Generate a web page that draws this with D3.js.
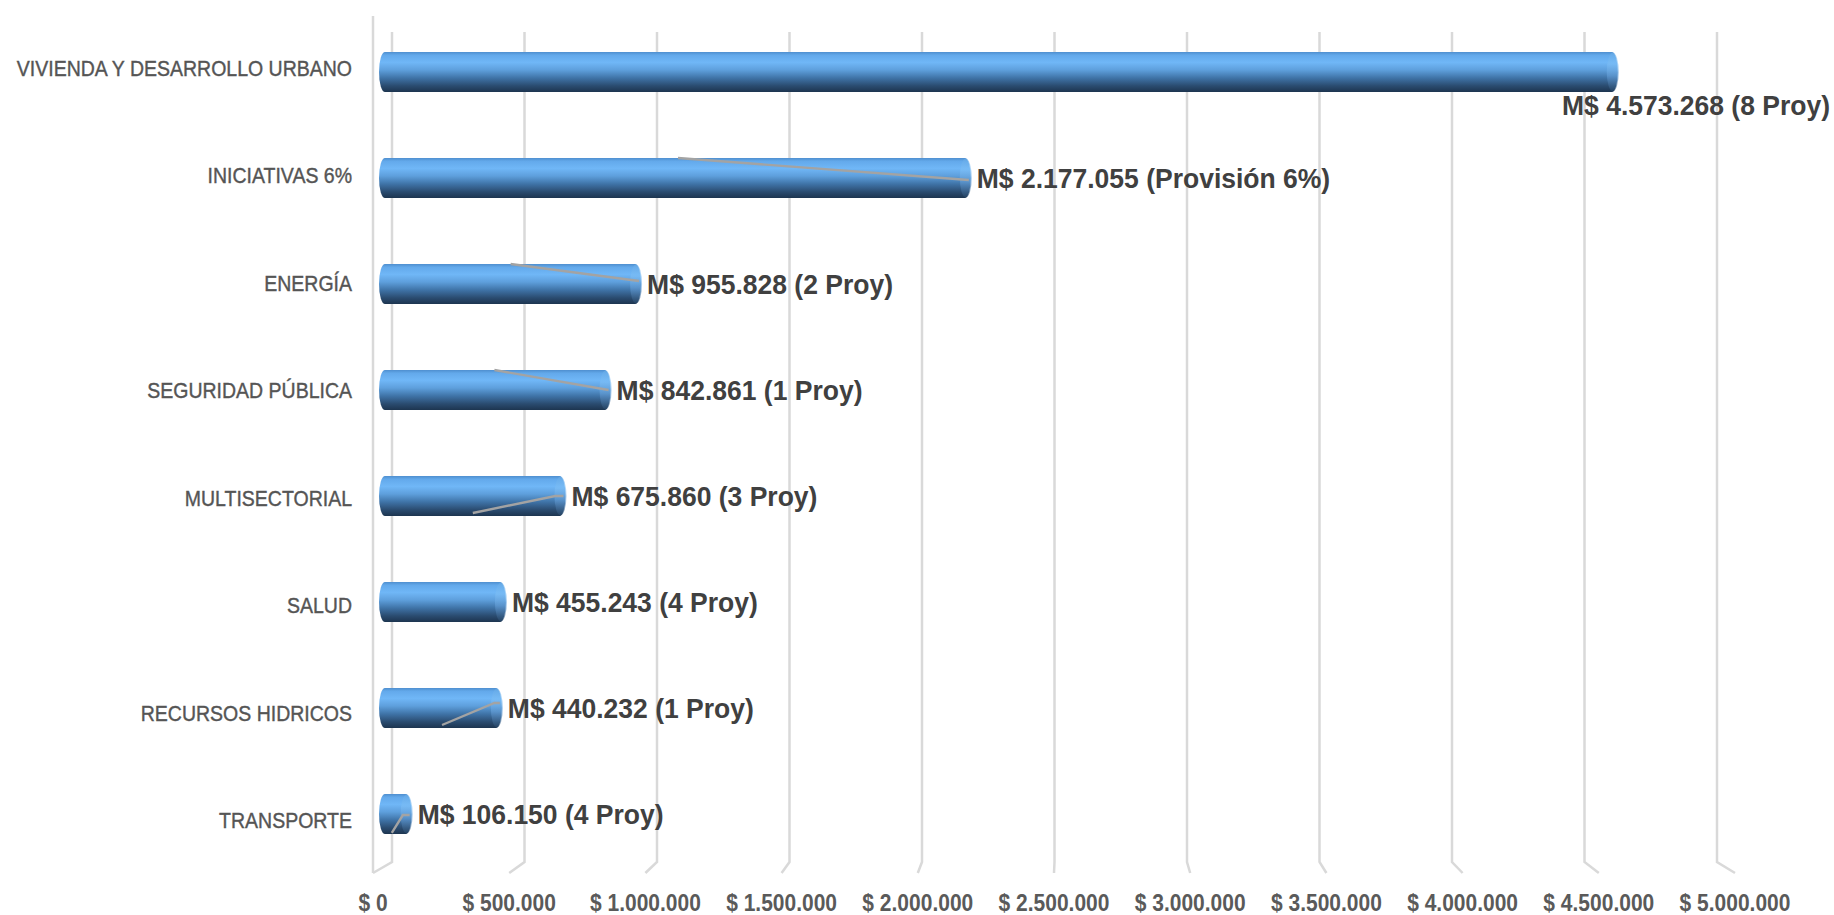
<!DOCTYPE html>
<html>
<head>
<meta charset="utf-8">
<script src="https://cdn.jsdelivr.net/npm/d3@7"></script>
<style>
  html, body { margin: 0; padding: 0; background: #ffffff; }
  svg { display: block; }
  text { font-family: "Liberation Sans", Arial, sans-serif; }
</style>
</head>
<body>
<script>
// ---------- DATA ----------
const categories = [
  "VIVIENDA Y DESARROLLO URBANO",
  "INICIATIVAS 6%",
  "ENERGÍA",
  "SEGURIDAD PÚBLICA",
  "MULTISECTORIAL",
  "SALUD",
  "RECURSOS HIDRICOS",
  "TRANSPORTE"
];
const values = [4573268, 2177055, 955828, 842861, 675860, 455243, 440232, 106150];
const projectNotes = ["8 Proy", "Provisión 6%", "2 Proy", "1 Proy", "3 Proy", "4 Proy", "1 Proy", "4 Proy"];
const tickValues = [0, 500000, 1000000, 1500000, 2000000, 2500000, 3000000, 3500000, 4000000, 4500000, 5000000];
const tickLabels = ["$ 0", "$ 500.000", "$ 1.000.000", "$ 1.500.000", "$ 2.000.000", "$ 2.500.000",
                    "$ 3.000.000", "$ 3.500.000", "$ 4.000.000", "$ 4.500.000", "$ 5.000.000"];
// label leader lines (value, position across the bar from -1 top to +1 bottom)
const leaderCategories = ["INICIATIVAS 6%", "ENERGÍA", "SEGURIDAD PÚBLICA", "MULTISECTORIAL", "RECURSOS HIDRICOS", "TRANSPORTE"];
const leaderPoints = [
  [[1100000, -1], [2177055, 0.1]],
  [[480000, -1], [955828, -0.15]],
  [[420000, -1], [842861, 0]],
  [[340000, 0.85], [645000, 0], [675860, 0]],
  [[226000, 0.85], [420000, -0.25], [440232, -0.25]],
  [[40000, 0.95], [81000, 0.05], [106150, 0.05]]
];

// ---------- LAYOUT ----------
const W = 1834, H = 915;
const svg = d3.select("body").append("svg").attr("width", W).attr("height", H);

const maxV = 5000000;
const xBack  = d3.scaleLinear().domain([0, maxV]).range([392, 1717]);   // back wall
const xFront = d3.scaleLinear().domain([0, maxV]).range([373, 1735]);   // front floor edge
const xBar   = d3.scaleLinear().domain([0, maxV]).range([381, 1731]);   // bar plane

const yBar   = d3.scaleBand().domain(categories).range([19, 867]);
const yLabel = d3.scaleBand().domain(categories).range([14, 874]);
const barH = yBar.step() * 0.377;

const wallTop = 32, wallBottom = 862, frontTop = 16, frontBottom = 873;

// ---------- DEFS ----------
const defs = svg.append("defs");
const grad = defs.append("linearGradient").attr("id", "cyl").attr("x1", 0).attr("y1", 0).attr("x2", 0).attr("y2", 1);
[[0, "#4f8fcf"], [0.08, "#63a9eb"], [0.26, "#70b7f7"], [0.45, "#5e9fdc"], [0.65, "#3f73a7"], [0.85, "#2a4b6f"], [1, "#1d3550"]]
  .forEach(([o, c]) => grad.append("stop").attr("offset", o).attr("stop-color", c));
const gradCap = defs.append("linearGradient").attr("id", "cap").attr("x1", 0).attr("y1", 0).attr("x2", 0).attr("y2", 1);
[[0, "#68ace7"], [0.3, "#7dbef5"], [0.6, "#659fd8"], [1, "#2a4a6c"]]
  .forEach(([o, c]) => gradCap.append("stop").attr("offset", o).attr("stop-color", c));

// ---------- GRID (back wall + floor) ----------
const grid = svg.append("g").attr("fill", "none").attr("stroke", "#d9d9d9").attr("stroke-width", 2.5);
grid.selectAll("path.g").data(tickValues).join("path")
  .attr("class", "g")
  .attr("d", v => `M${xBack(v)},${wallTop}L${xBack(v)},${wallBottom}L${xFront(v)},${frontBottom}`);
// left side wall front edge
grid.append("line")
  .attr("x1", xFront(0)).attr("x2", xFront(0))
  .attr("y1", frontTop).attr("y2", frontBottom);

// ---------- BARS ----------
const bars = svg.append("g");
const rows = categories.map((c, i) => ({ c, v: values[i], note: projectNotes[i] }));
const cy = d => yBar(d.c) + yBar.bandwidth() / 2;
const capRx = 6;

bars.selectAll("rect").data(rows).join("rect")
  .attr("x", xBar(0) - 2)
  .attr("y", d => cy(d) - barH / 2)
  .attr("width", d => Math.max(xBar(d.v) - xBar(0) + 4, capRx * 2))
  .attr("height", barH)
  .attr("rx", capRx).attr("ry", barH / 2)
  .attr("fill", "url(#cyl)");

bars.selectAll("ellipse").data(rows).join("ellipse")
  .attr("cx", d => xBar(d.v) - capRx + 3)
  .attr("cy", d => cy(d))
  .attr("rx", capRx).attr("ry", barH / 2 - 0.5)
  .attr("fill", "url(#cap)")
  .attr("opacity", 0.6);

// ---------- LEADER LINES ----------
const line = d3.line();
svg.append("g").attr("fill", "none").attr("stroke", "#a3a3a3").attr("stroke-width", 2.4)
  .selectAll("path").data(leaderCategories.map((c, i) => ({ c, pts: leaderPoints[i] }))).join("path")
  .attr("d", d => {
    const c = yBar(d.c) + yBar.bandwidth() / 2;
    return line(d.pts.map(([v, f]) => [xBar(v), c + f * barH / 2]));
  });

// ---------- DATA LABELS ----------
const fmt = d3.formatLocale({ decimal: ",", thousands: ".", grouping: [3], currency: ["", ""] }).format(",");
const dl = svg.append("g")
  .attr("font-size", 26.5).attr("font-weight", "bold").attr("fill", "#404040");
dl.selectAll("text").data(rows).join("text")
  .text(d => `M$ ${fmt(d.v)} (${d.note})`)
  .each(function (d) {
    const t = d3.select(this);
    const w = this.getComputedTextLength();
    const xEnd = xBar(d.v) + 2;
    if (xEnd + 6 + w > W - 4) {
      // not enough room to the right: place under the bar end, aligned to the chart edge
      t.attr("text-anchor", "end")
       .attr("transform", `translate(${W - 4},${cy(d) + barH / 2 + 13}) scale(1,1.06)`);
    } else {
      t.attr("text-anchor", "start")
       .attr("transform", `translate(${xEnd + 6},${cy(d)}) scale(1,1.06)`);
    }
  })
  .attr("y", 9.5);

// ---------- CATEGORY AXIS ----------
const cat = svg.append("g").attr("font-size", 19.5).attr("fill", "#555555")
  .attr("stroke", "#555555").attr("stroke-width", 0.35).attr("text-anchor", "end");
cat.selectAll("text").data(categories).join("text")
  .attr("transform", c => `translate(352,${yLabel(c) + yLabel.bandwidth() / 2}) scale(1,1.17)`)
  .attr("y", 7)
  .text(c => c);

// ---------- VALUE AXIS ----------
const ax = svg.append("g").attr("font-size", 21).attr("font-weight", "bold").attr("fill", "#5a5a5a").attr("text-anchor", "middle");
ax.selectAll("text").data(tickValues).join("text")
  .attr("transform", v => `translate(${xFront(v)},903) scale(1,1.1)`)
  .attr("y", 7.5)
  .text((v, i) => tickLabels[i]);
</script>
</body>
</html>
